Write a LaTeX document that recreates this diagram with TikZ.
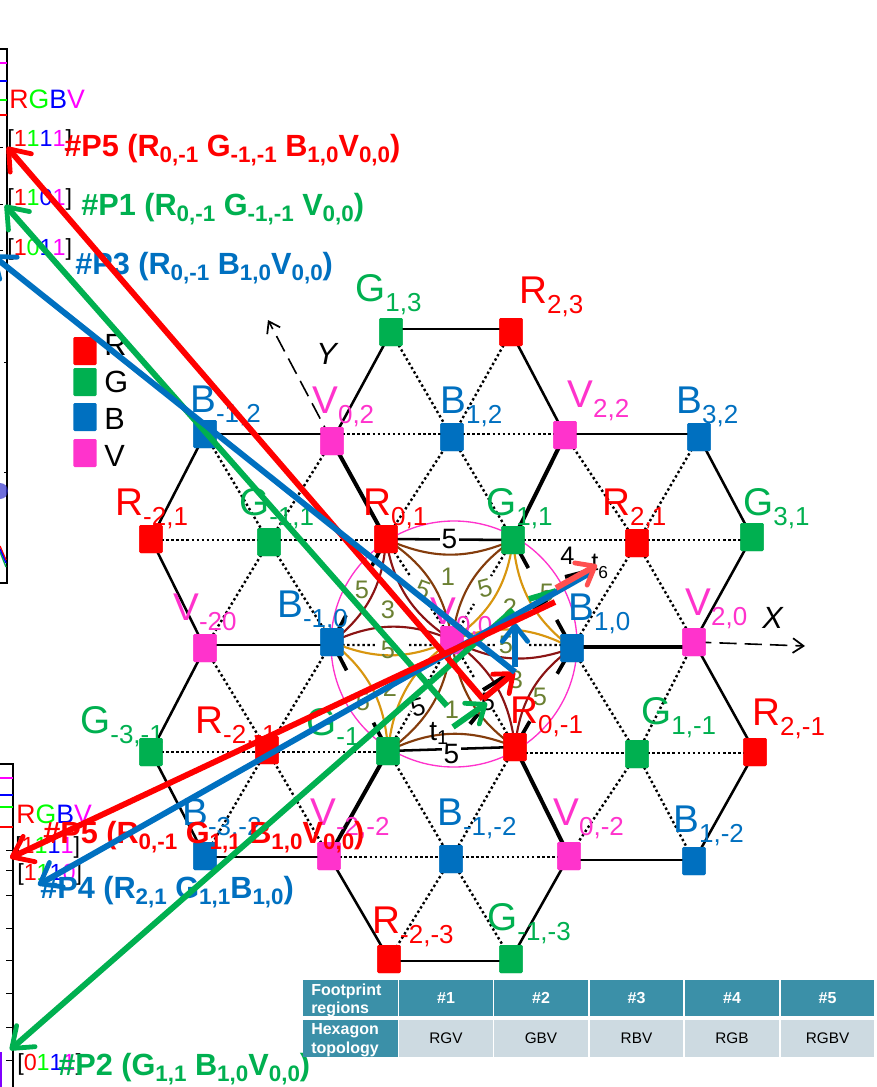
\documentclass[tikz,border=0pt]{standalone}
\usepackage{fontspec}
\setmainfont{Liberation Sans}
\usetikzlibrary{calc,arrows.meta}
\definecolor{cR}{HTML}{FF0000}
\definecolor{cG}{HTML}{00B050}
\definecolor{cB}{HTML}{0070C0}
\definecolor{cV}{HTML}{FF33CC}
\definecolor{cBrown}{HTML}{843C0C}
\definecolor{cGold}{HTML}{D8960F}
\definecolor{cDark}{HTML}{8B1414}
\definecolor{cOlive}{HTML}{6B8032}
\definecolor{cTeal}{HTML}{3B90A8}
\definecolor{cPale}{HTML}{CDDAE1}
\definecolor{cSalmon}{HTML}{FF5050}
\definecolor{cLime}{HTML}{00FF00}
\definecolor{cPure}{HTML}{0000FF}
\definecolor{cMag}{HTML}{FF00FF}
\newcommand\lab[6]{\node[anchor=base west,inner sep=0pt,text=#2] (#1) at (#3,#4) {\fontsize{29}{29}\selectfont #5\lower7.5pt\hbox{\fontsize{19.5}{19.5}\selectfont #6}};}
\newcommand\bsub[1]{\lower4.5pt\hbox{\fontsize{16.8}{16.8}\selectfont #1}}
\newcommand\bitsA[4]{\textcolor{cR}{#1}\textcolor{cLime}{#2}\textcolor{cPure}{#3}\textcolor{cMag}{#4}}
\newcommand\sq[4]{\node[sqnode,fill=#2] (#1) at (#3,#4) {};}
\newcommand\olv[5]{\node[olvnum,rotate=#4] (#1) at (#2,#3) {#5};}
\tikzset{
  sqnode/.style={minimum width=17.5pt,minimum height=21pt,inner sep=0pt,rounded corners=1pt,draw=none},
  solidedge/.style={line width=1.9pt,black},
  heavyedge/.style={line width=3pt,black},
  dotedge/.style={line width=1.8pt,black,dash pattern=on 1.8pt off 2pt},
  olvnum/.style={inner sep=0pt,text=cOlive,font=\fontsize{19}{19}\selectfont},
  blknum/.style={inner sep=1.5pt,text=black,font=\fontsize{21}{21}\selectfont},
  curve/.style={line width=1.6pt},
  axisdash/.style={line width=1.2pt,black,dash pattern=on 13pt off 6pt,-{Straight Barb[length=8pt,width=11pt,line width=1.3pt]}},
  stub/.style={line width=2.8pt,black},
  bigarrow/.style={line width=4.4pt,-{Straight Barb[length=14pt,width=21pt,line width=3.6pt,round]}},
  shortarrow/.style={line width=4.4pt,-{Straight Barb[length=12pt,width=19pt,line width=3.6pt,round]}},
  plainseg/.style={line width=4.4pt},
  blackseg/.style={line width=3pt,black},
  boldtxt/.style={anchor=base west,inner sep=0pt,font=\bfseries\fontsize{23}{23}\selectfont},
  bits/.style={anchor=base west,inner sep=0pt,font=\fontsize{17.5}{17.5}\selectfont},
  rgbv/.style={anchor=base west,inner sep=0pt,font=\fontsize{20}{20}\selectfont},
  legtxt/.style={anchor=base west,inner sep=0pt,text=black,font=\fontsize{23}{23}\selectfont},
  headcell/.style={inner sep=0pt,fill=cTeal,text=white,font=\bfseries\fontsize{12}{12}\selectfont,minimum height=27.5pt,minimum width=70pt},
  bodycell/.style={inner sep=0pt,fill=cPale,text=black,font=\fontsize{11.5}{11.5}\selectfont,minimum height=27.5pt,minimum width=70pt},
  rowtitle/.style={anchor=base west,inner sep=0pt,text=white,font=\bfseries\fontsize{12}{12}\selectfont},
  plotaxis/.style={line width=1pt,black}
}
\begin{document}
\begin{tikzpicture}[x=0.75pt,y=-0.75pt]
\useasboundingbox (0,0) rectangle (876,1087);
\fill[white] (0,0) rectangle (876,1087);
\begin{scope}
\clip (0,0) rectangle (876,1087);

% plot fragments, top left
\coordinate (pa1) at (0,49); \coordinate (pa2) at (7,49); \coordinate (pa3) at (7,583); \coordinate (pa4) at (0,583);
\draw[plotaxis] (pa1) -- (pa2) -- (pa3) -- (pa4);
\foreach \yy/\cc in {63/cMag,81/cPure,100/cLime,115/cR}{\draw[line width=1.2pt,\cc] (0,\yy) -- (7,\yy);}
\foreach \yy in {147,204,250}{\draw[line width=.7pt,black] (0,\yy) -- (3,\yy);}
\foreach \yy in {362,472}{\draw[line width=.7pt,black] (4,\yy) -- (7,\yy);}
\fill[cPure!60!gray,opacity=.7] (0,491) circle (8);
\draw[line width=1pt,cR] (0,546) -- (6,560);
\draw[line width=1pt,cG] (0,552) -- (6,567);
\draw[line width=1pt,cPure] (0,549) -- (6,563);
\node[rgbv] (rgbvtop) at (9,109) {\textcolor{cR}{R}\textcolor{cLime}{G}\textcolor{cPure}{B}\textcolor{cMag}{V}};
\node[bits] (bA) at (7,147) {[\bitsA1111]};
\node[bits] (bB) at (7,206) {[\bitsA1101]};
\node[bits] (bC) at (7,256) {[\bitsA1011]};

% plot fragments, bottom left
\draw[plotaxis] (0,764) -- (13,764) -- (13,1087);
\foreach \yy/\cc in {778/cMag,795/cPure,807/cLime,827/cR}{\draw[line width=1.2pt,\cc] (0,\yy) -- (13,\yy);}
\foreach \yy in {850,870,895,928,960,993,1027,1060}{\draw[line width=.7pt,black] (6,\yy) -- (13,\yy);}
\draw[line width=1.5pt,cPure!50!cMag] (0.5,1052) -- (0.5,1087);
\node[rgbv] (rgbvlow) at (16,823) {\textcolor{cR}{R}\textcolor{cLime}{G}\textcolor{cPure}{B}\textcolor{cMag}{V}};
\node[bits] (bD) at (15,853) {[\bitsA1111]};
\node[bits] (bE) at (17,880) {[\bitsA1110]};
\node[bits] (bF) at (17,1070) {[\bitsA0111]};

% lattice nodes: created first so edges can refer to them, painted again on top
\def\allsquares{%
\sq{G13}{cG}{391}{332}\sq{R23}{cR}{511}{332}
\sq{Bm12}{cB}{205}{434}\sq{V02}{cV}{332}{441}\sq{B12}{cB}{452}{437}\sq{V22}{cV}{565}{435}\sq{B32}{cB}{699}{437}
\sq{Rm21}{cR}{151}{539}\sq{Gm11}{cG}{269}{542}\sq{R01}{cR}{386}{539}\sq{G11}{cG}{513}{540}\sq{R21}{cR}{637}{543}\sq{G31}{cG}{752}{537}
\sq{Vm20}{cV}{205}{648}\sq{Bm10}{cB}{332}{642}\sq{V00}{cV}{452}{640}\sq{B10}{cB}{572}{648}\sq{V20}{cV}{694}{642}
\sq{Gm3m1}{cG}{151}{752}\sq{Rm2m1}{cR}{267}{750}\sq{Gm1m1}{cG}{388}{751}\sq{R0m1}{cR}{515}{747}\sq{G1m1}{cG}{637}{754}\sq{R2m1}{cR}{755}{752}
\sq{Bm3m2}{cB}{205}{856}\sq{Vm2m2}{cV}{329}{856}\sq{Bm1m2}{cB}{451}{859}\sq{V0m2}{cV}{569}{856}\sq{B1m2}{cB}{694}{861}
\sq{Rm2m3}{cR}{389}{959}\sq{Gm1m3}{cG}{511}{959}}
\allsquares

% row levels of the horizontal edges
\foreach \r in {329,434,540,645,647,752,753,857,860,961}{\coordinate (row\r) at (0,\r);}

% axes
\coordinate (xend) at (805,646);
\coordinate (yend) at (268,320);
\draw[axisdash] (V20.center) -- (xend);
\draw[axisdash] (V02.center) -- (yend);

% dotted edges
\foreach \a/\b in {
 Bm12/Gm11,Gm11/V02,Vm20/Gm11,Gm11/Bm10,R01/B12,B12/G11,G13/B12,R23/B12,V22/R21,R21/B32,B10/R21,R21/V20,
 B10/G1m1,G1m1/V20,G1m1/V0m2,G1m1/B1m2,R0m1/Bm1m2,Gm1m1/Bm1m2,Bm1m2/Rm2m3,Bm1m2/Gm1m3,
 Vm2m2/Rm2m1,Rm2m1/Bm3m2,Rm2m1/Vm20,Rm2m1/Bm10}{\draw[dotedge] (\a.center) -- (\b.center);}
\foreach \a/\b/\r in {Rm21/Gm11/540,Gm11/R01/540,G11/R21/540,R21/G31/540,Gm3m1/Rm2m1/752,Rm2m1/Gm1m1/752,R0m1/G1m1/753,G1m1/R2m1/753,V02/B12/434,B12/V22/434,Vm2m2/Bm1m2/857,Bm1m2/V0m2/857}{\draw[dotedge] (\a.center |- row\r) -- (\b.center |- row\r);}
\foreach \a in {R01,G11,R0m1,Gm1m1}{
 \draw[dotedge] (V00.center) -- ($(V00.center)!0.36!(\a.center)$);
 \draw[dotedge] (\a.center) -- ($(\a.center)!0.36!(V00.center)$);}
\foreach \a in {B10,Bm10}{
 \draw[dotedge] (V00.center |- row645) -- ($(V00.center |- row645)!0.36!(\a.center |- row645)$);
 \draw[dotedge] (\a.center |- row645) -- ($(\a.center |- row645)!0.36!(V00.center |- row645)$);}

% solid edges
\foreach \a/\b in {G13/V02,R23/V22,B32/G31,G31/V20,V20/R2m1,R2m1/B1m2,V0m2/Gm1m3,Rm2m3/Vm2m2,Bm3m2/Gm3m1,Gm3m1/Vm20,Vm20/Rm21,Rm21/Bm12}{\draw[solidedge] (\a.center) -- (\b.center);}
\foreach \a/\b/\r in {G13/R23/329,V22/B32/434,B1m2/V0m2/860,Gm1m3/Rm2m3/961,Vm2m2/Bm3m2/857,Bm12/V02/434,Vm20/Bm10/645}{\draw[solidedge] (\a.center |- row\r) -- (\b.center |- row\r);}
\foreach \a/\b in {V02/R01,V22/G11,Gm1m1/Vm2m2,R0m1/V0m2}{\draw[heavyedge] (\a.center) -- (\b.center);}
\draw[heavyedge] (B10.center |- row647) -- (V20.center |- row647);
\foreach \a/\b in {R01/Bm10,Bm10/R01,Bm10/Gm1m1,Gm1m1/Bm10,G11/B10,B10/G11,B10/R0m1,R0m1/B10}{\draw[stub] (\a.center) -- ($(\a.center)!0.26!(\b.center)$);}

% circle
\node[circle,draw=cV,line width=1pt,minimum size=184.5pt,inner sep=0pt] (ring) at (454,644) {};

% petals
\foreach \a/\b/\cc in {R01/G11/cBrown,G11/B10/cGold,B10/R0m1/cDark,R0m1/Gm1m1/cBrown,Gm1m1/Bm10/cGold,Bm10/R01/cDark}{
 \draw[curve,\cc] (\a.center) to[bend right=24] (\b.center);
 \draw[curve,\cc] (\b.center) to[bend right=24] (V00.center);
 \draw[curve,\cc] (V00.center) to[bend right=24] (\a.center);}

% top and bottom inner edges with their 5
\draw[solidedge] (R01.center) -- (G11.center) node[midway,blknum,fill=white] (five1) {5};
\draw[solidedge] (Gm1m1.center) -- (R0m1.center) node[midway,blknum,fill=white,yshift=-4pt] (five2) {5};

% region numbers
\olv{n1}{362}{590}{0}{5}\olv{n2}{388}{610}{0}{3}\olv{n3}{423}{590}{-20}{5}\olv{n4}{448}{577}{0}{1}
\olv{n5}{485}{588}{15}{5}\olv{n6}{510}{608}{0}{2}\olv{n7}{547}{593}{0}{5}\olv{n8}{506}{645}{0}{5}
\olv{n9}{388}{650}{0}{5}\olv{n10}{390}{688}{0}{2}\olv{n11}{363}{702}{0}{5}\olv{n12}{452}{710}{0}{1}
\olv{n13}{516}{680}{0}{3}\olv{n14}{540}{697}{0}{5}
\node[inner sep=0pt,font=\fontsize{19}{19}\selectfont,rotate=15] (k1) at (418,707) {5};
\node[inner sep=0pt,font=\fontsize{19}{19}\selectfont] (k2) at (488,702) {5};
\node[inner sep=0pt,anchor=base west,font=\fontsize{21}{21}\selectfont] (k3) at (429,740) {t\lower3pt\hbox{\fontsize{15}{15}\selectfont 1}};
\node[inner sep=0pt,anchor=base west,font=\fontsize{19}{19}\selectfont] (k4) at (560,564) {4};
\node[inner sep=0pt,anchor=base west,font=\fontsize{19}{19}\selectfont] (k5) at (591,570) {t\lower6pt\hbox{\fontsize{13}{13}\selectfont 6}};

% lattice labels
\lab{lG13}{cG}{355}{301}{G}{1,3}
\lab{lR23}{cR}{519}{303}{R}{2,3}
\lab{lBm12}{cB}{190}{412}{B}{-1,2}
\lab{lV02}{cV}{312}{413}{V}{0,2}
\lab{lB12}{cB}{440}{413}{B}{1,2}
\lab{lV22}{cV}{567}{407}{V}{2,2}
\lab{lB32}{cB}{676}{413}{B}{3,2}
\lab{lRm21}{cR}{115}{515}{R}{-2,1}
\lab{lGm11}{cG}{239}{515}{G}{-1,1}
\lab{lR01}{cR}{363}{515}{R}{0,1}
\lab{lG11}{cG}{486}{515}{G}{1,1}
\lab{lR21}{cR}{602}{515}{R}{2,1}
\lab{lG31}{cG}{743}{515}{G}{3,1}
\lab{lVm20}{cV}{173}{620}{V}{-20}
\lab{lBm10}{cB}{277}{617}{B}{-1,0}
\lab{lV00}{cV}{430}{624}{V}{0,0}
\lab{lB10}{cB}{568}{620}{B}{1,0}
\lab{lV20}{cV}{685}{615}{V}{2,0}
\lab{lGm3m1}{cG}{80}{733}{G}{-3,-1}
\lab{lRm2m1}{cR}{195}{733}{R}{-2,-1}
\lab{lGm1}{cG}{306}{735}{G}{-1}
\lab{lR0m1}{cR}{510}{723}{R}{0,-1}
\lab{lG1m1}{cG}{641}{724}{G}{1,-1}
\lab{lR2m1}{cR}{752}{725}{R}{2,-1}
\lab{lBm3m2}{cB}{182}{825}{B}{-3,-2}
\lab{lVm2m2}{cV}{310}{825}{V}{-2,-2}
\lab{lBm1m2}{cB}{437}{825}{B}{-1,-2}
\lab{lV0m2}{cV}{553}{825}{V}{0,-2}
\lab{lB1m2}{cB}{673}{832}{B}{1,-2}
\lab{lRm2m3}{cR}{372}{933}{R}{-2,-3}
\lab{lGm1m3}{cG}{487}{930}{G}{-1,-3}
\node[anchor=base west,inner sep=0pt,font=\itshape\fontsize{23}{23}\selectfont] (xlab) at (762,628) {X};
\node[anchor=base west,inner sep=0pt,font=\itshape\fontsize{23}{23}\selectfont] (ylab) at (316,364) {Y};

% squares on top of the lines
\allsquares

% legend
\sq{lgR}{cR}{85}{351}\sq{lgG}{cG}{85}{382}\sq{lgB}{cB}{85}{417}\sq{lgV}{cV}{85}{453}
\node[legtxt] (ltR) at (104,355) {R};
\node[legtxt] (ltG) at (104,392) {G};
\node[legtxt] (ltB) at (104,429) {B};
\node[legtxt] (ltV) at (104,466) {V};

% footprint labels
\node[boldtxt,text=cR] (p5a) at (64,157) {\#P5 (R\bsub{0,-1} G\bsub{-1,-1} B\bsub{1,0}V\bsub{0,0})};
\node[boldtxt,text=cG] (p1) at (81,216) {\#P1 (R\bsub{0,-1} G\bsub{-1,-1} V\bsub{0,0})};
\node[boldtxt,text=cB] (p3) at (75,275) {\#P3 (R\bsub{0,-1} B\bsub{1,0}V\bsub{0,0})};
\node[boldtxt,text=cR] (p5b) at (43,843) {\#P5 (R\bsub{0,-1} G\bsub{1,1} B\bsub{1,0}V\bsub{0,0})};
\node[boldtxt,text=cB] (p4) at (40,898) {\#P4 (R\bsub{2,1} G\bsub{1,1}B\bsub{1,0})};
\node[boldtxt,text=cG] (p2) at (58,1075) {\#P2 (G\bsub{1,1} B\bsub{1,0}V\bsub{0,0})};

% black vectors beneath the coloured ones
\coordinate (ka1) at (565,577); \coordinate (ka2) at (592,570);
\coordinate (kb1) at (483,690); \coordinate (kb2) at (507,675);
\coordinate (kc1) at (533,608); \coordinate (kc2) at (547,600);
\coordinate (kd1) at (470,724); \coordinate (kd2) at (478,714);
\draw[blackseg] (ka1) -- (ka2);
\draw[blackseg] (kb1) -- (kb2);
\draw[blackseg] (kc1) -- (kc2);
\draw[blackseg] (kd1) -- (kd2);

% vectors
\coordinate (ga) at (447,706); \coordinate (gb) at (5,205);
\coordinate (gc) at (453,727); \coordinate (gd) at (487,703);
\draw[bigarrow,cG] (ga) -- (gb);
\draw[shortarrow,cG] (gc) -- (gd);
\coordinate (ge) at (513,610); \coordinate (gf) at (10,1050);
\draw[bigarrow,cG] (ge) -- (gf);
\coordinate (gg) at (529,599); \coordinate (gh) at (556,591);
\draw[plainseg,cG] (gg) -- (gh);
\coordinate (ra) at (483,699); \coordinate (rb) at (7,147);
\coordinate (rc) at (515,672);
\draw[bigarrow,cR] (ra) -- (rb);
\draw[shortarrow,cR] (ra) -- (rc);
\coordinate (ba) at (515,672); \coordinate (bb) at (-8,255);
\draw[bigarrow,cB] (ba) -- (bb);
\coordinate (bc) at (515,667); \coordinate (bd) at (515,623);
\draw[shortarrow,cB] (bc) -- (bd);
\coordinate (be) at (590,573); \coordinate (bf) at (38,885);
\draw[bigarrow,cB] (be) -- (bf);
\coordinate (rd) at (555,602); \coordinate (re) at (10,858);
\draw[bigarrow,cR] (rd) -- (re);
\coordinate (sa) at (556,588); \coordinate (sb) at (597,565);
\draw[shortarrow,cSalmon] (sa) -- (sb);
\end{scope}

% table
\foreach \nm/\cx/\tx in {hA/446/\#1,hB/541/\#2,hC/636.5/\#3,hD/732/\#4,hE/827.5/\#5}{
 \node[headcell] (\nm) at (\cx,998) {\tx};}
\foreach \nm/\cx/\tx in {cA/446/RGV,cB/541/GBV,cC/636.5/RBV,cD/732/RGB,cE/827.5/RGBV}{
 \node[bodycell] (\nm) at (\cx,1038.5) {\tx};}
\fill[cTeal] (303,980) rectangle (397.5,1016);
\fill[cTeal] (303,1020) rectangle (397.5,1057);
\node[rowtitle] (t1) at (311,995) {Footprint};
\node[rowtitle] (t2) at (311,1013) {regions};
\node[rowtitle] (t3) at (311,1034) {Hexagon};
\node[rowtitle] (t4) at (311,1053) {topology};
\end{tikzpicture}
\end{document}
